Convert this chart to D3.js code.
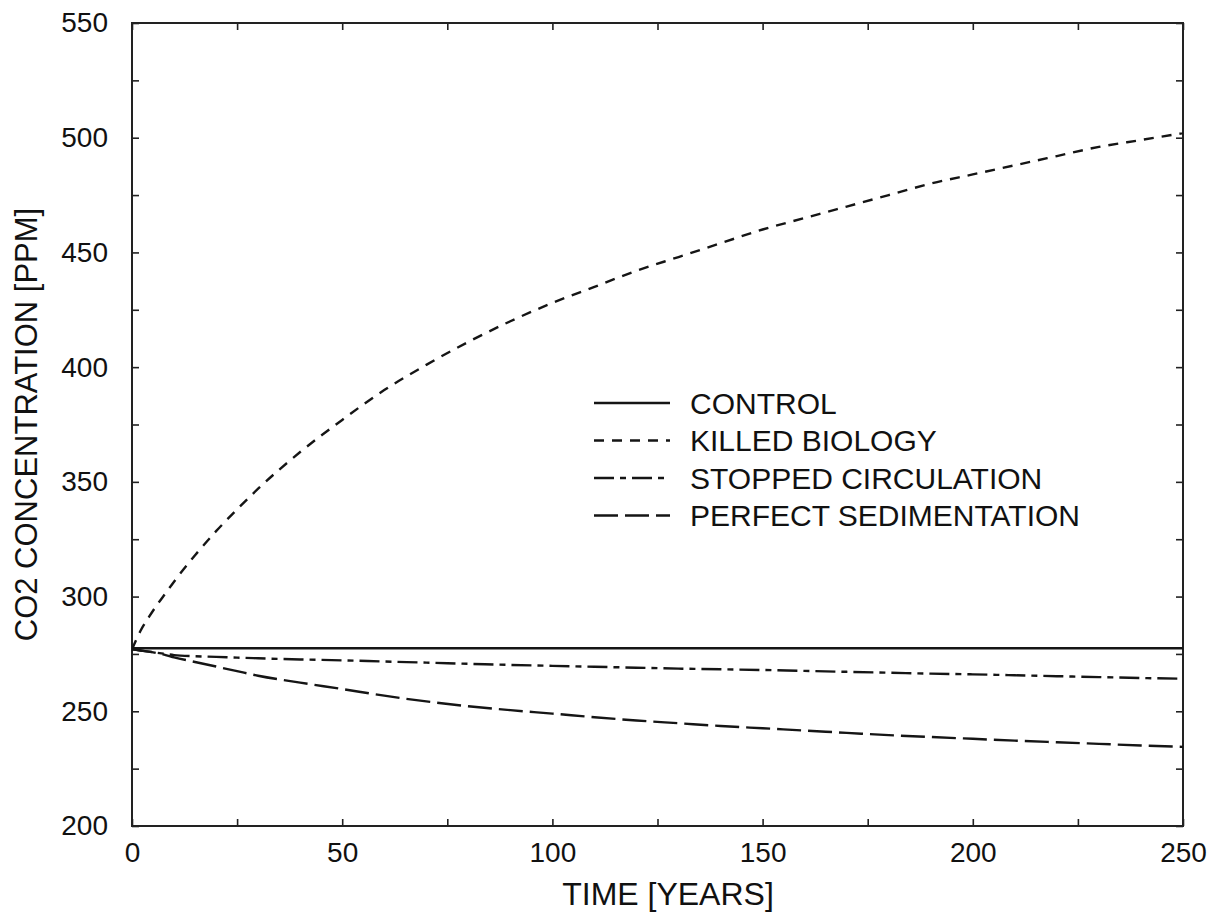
<!DOCTYPE html>
<html>
<head>
<meta charset="utf-8">
<script src="https://cdn.jsdelivr.net/npm/d3@7"></script>
<style>
  body { margin: 0; background: #fff; }
  svg { display: block; }
  text { font-family: "Liberation Sans", Arial, Helvetica, sans-serif; fill: #111; }
</style>
</head>
<body>
<svg id="chart" width="1222" height="912"></svg>
<script>
// Values
const years = [0, 2, 4, 6, 8, 10, 15, 20, 25, 30, 40, 50, 60, 70, 80, 90, 100,
               110, 120, 130, 140, 150, 160, 170, 180, 190, 200, 210, 220, 230, 240, 250];

const control = [277.5, 277.5, 277.5, 277.5, 277.5, 277.5, 277.5, 277.5, 277.5, 277.5, 277.5,
                 277.5, 277.5, 277.5, 277.5, 277.5, 277.5, 277.5, 277.5, 277.5, 277.5, 277.5,
                 277.5, 277.5, 277.5, 277.5, 277.5, 277.5, 277.5, 277.5, 277.5, 277.5];

const killedBiology = [277, 285, 291, 296.5, 301.5, 306.5, 318, 328.5, 338, 347, 363, 377, 390, 401, 411, 420, 428,
                       435, 442, 448, 454, 460, 465, 470, 475, 480, 484, 488, 492, 496, 499, 502];

const stoppedCirculation = [277, 276.5, 276, 275.5, 275, 274.5, 274, 273.7, 273.4, 273.1, 272.6, 272.2, 271.7,
                            271.2, 270.7, 270.2, 269.8, 269.4, 269, 268.6, 268.3, 268, 267.6, 267.2,
                            266.8, 266.4, 266.1, 265.7, 265.3, 264.9, 264.5, 264.2];

const perfectSedimentation = [277, 276.5, 276, 275.3, 274.5, 273.5, 271.5, 269.5, 267.5, 265.5, 262.5, 259.7,
                              256.8, 254.3, 252.2, 250.5, 249, 247.4, 246, 244.8, 243.6, 242.6, 241.6,
                              240.6, 239.6, 238.8, 238, 237.2, 236.5, 235.8, 235.1, 234.5];

const seriesNames = ["CONTROL", "KILLED BIOLOGY", "STOPPED CIRCULATION", "PERFECT SEDIMENTATION"];
const seriesValues = [control, killedBiology, stoppedCirculation, perfectSedimentation];
const seriesDash = ["none", "10,8", "20,6,6,6", "24,7"];

const xTicks = d3.range(0, 251, 25);
const yTicks = d3.range(200, 551, 25);

const margin = { top: 23, right: 39, bottom: 86, left: 132 };
const svgWidth = 1222, svgHeight = 912;
const width = svgWidth - margin.left - margin.right;
const height = svgHeight - margin.top - margin.bottom;

const svg = d3.select("#chart");
const g = svg.append("g").attr("transform", `translate(${margin.left},${margin.top})`);

const x = d3.scaleLinear().domain([0, 250]).range([0, width]);
const y = d3.scaleLinear().domain([200, 550]).range([height, 0]);

// axes: inward ticks on all four sides, labels every 50
const fmt = d => (d % 50 === 0 ? d : "");
const tickLen = 7;

g.append("g").attr("class", "axis")
    .attr("transform", `translate(0,${height})`)
    .call(d3.axisBottom(x).tickValues(xTicks).tickSize(-tickLen).tickPadding(16).tickFormat(fmt));
g.append("g").attr("class", "axis")
    .call(d3.axisTop(x).tickValues(xTicks).tickSize(-tickLen).tickFormat(""));
g.append("g").attr("class", "axis")
    .call(d3.axisLeft(y).tickValues(yTicks).tickSize(-tickLen).tickPadding(24).tickFormat(fmt));
g.append("g").attr("class", "axis")
    .attr("transform", `translate(${width},0)`)
    .call(d3.axisRight(y).tickValues(yTicks).tickSize(-tickLen).tickFormat(""));

g.selectAll(".axis .domain").remove();
g.selectAll(".axis line").attr("stroke", "#222").attr("stroke-width", 1.6);
g.selectAll(".axis text").style("font-size", "28px").attr("fill", "#111");

// frame
g.append("rect")
    .attr("x", 0).attr("y", 0)
    .attr("width", width).attr("height", height)
    .attr("fill", "none").attr("stroke", "#222").attr("stroke-width", 2);

// curves
g.append("clipPath").attr("id", "clip")
    .append("rect").attr("width", width).attr("height", height);

const line = d3.line()
    .x((d, i) => x(years[i]))
    .y(d => y(d))
    .curve(d3.curveMonotoneX);

g.append("g").attr("clip-path", "url(#clip)")
    .selectAll("path")
    .data(seriesValues)
    .enter().append("path")
    .attr("d", line)
    .attr("fill", "none")
    .attr("stroke", "#151515")
    .attr("stroke-width", 2.4)
    .attr("stroke-dasharray", (d, i) => seriesDash[i]);

// legend
const legend = g.append("g").attr("transform", "translate(462,380)");
const rows = legend.selectAll("g")
    .data(seriesNames)
    .enter().append("g")
    .attr("transform", (d, i) => `translate(0,${i * 37.5})`);

rows.append("line")
    .attr("x1", 0).attr("x2", 76)
    .attr("y1", 0).attr("y2", 0)
    .attr("stroke", "#151515")
    .attr("stroke-width", 2.4)
    .attr("stroke-dasharray", (d, i) => seriesDash[i]);

rows.append("text")
    .attr("x", 96)
    .attr("y", 10.5)
    .style("font-size", "30px")
    .text(d => d);

// axis titles
svg.append("text")
    .attr("x", 668)
    .attr("y", 905)
    .attr("text-anchor", "middle")
    .style("font-size", "32px")
    .text("TIME [YEARS]");

svg.append("text")
    .attr("transform", "rotate(-90)")
    .attr("x", -(margin.top + height / 2))
    .attr("y", 37)
    .attr("text-anchor", "middle")
    .style("font-size", "31px")
    .text("CO2 CONCENTRATION [PPM]");
</script>
</body>
</html>
